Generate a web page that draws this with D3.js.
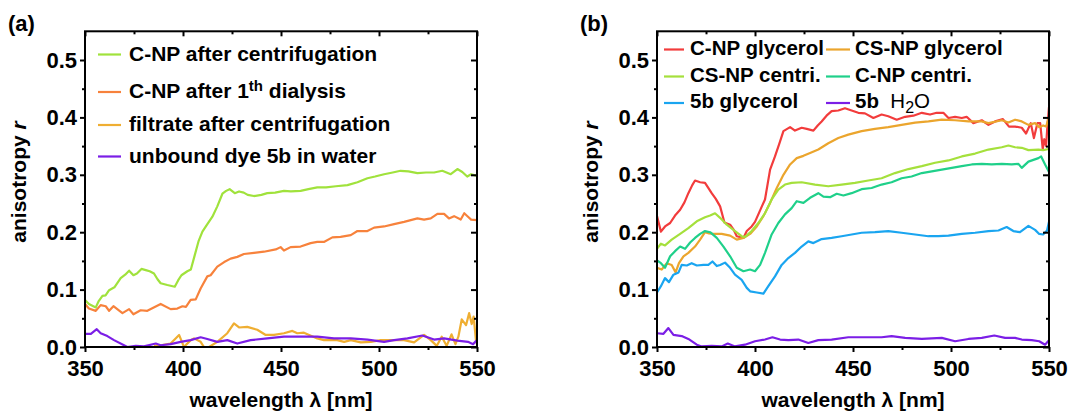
<!DOCTYPE html>
<html><head><meta charset="utf-8">
<script src="https://cdn.jsdelivr.net/npm/d3@7"></script>
<style>
body{margin:0;background:#fff}
svg{display:block}
text{font-family:"Liberation Sans",Arial,sans-serif;font-weight:bold;fill:#000;white-space:pre}
</style>
</head><body>
<svg id="c" width="1068" height="414"></svg>
<script>
// ---------- axes / ticks ----------
const xDomain = [350, 550];
const yDomain = [0, 0.55];
const xTicks = [350, 400, 450, 500, 550];
const xMinorTicks = [375, 425, 475, 525];
const yTicks = [0, 0.1, 0.2, 0.3, 0.4, 0.5];
const yMinorTicks = [0.05, 0.15, 0.25, 0.35, 0.45];
const xTitle = "wavelength λ [nm]";
const yTitle = "anisotropy ";
const yTitleItalic = "r";
const panelLabels = ["(a)", "(b)"];

// ---------- panel (a) ----------
const aLabels = ["C-NP after centrifugation", "C-NP after 1^{th} dialysis", "filtrate after centrifugation", "unbound dye 5b in water"];
const aColors = ["#a0e23c", "#f7823c", "#efae32", "#7b1ee6"];
const aCentri = [[350,0.082],[352,0.075],[355.5,0.069],[357,0.080],[358.9,0.089],[360.5,0.090],[362.3,0.099],[365,0.104],[368.2,0.120],[370.5,0.126],[372.5,0.133],[374.7,0.125],[376.5,0.128],[378.8,0.136],[381,0.134],[383,0.132],[385.2,0.128],[387,0.118],[388.6,0.111],[392,0.108],[395.8,0.105],[397.5,0.116],[399.2,0.125],[402.2,0.132],[404,0.135],[406,0.160],[408,0.185],[409.9,0.201],[412,0.212],[415,0.227],[417.5,0.245],[420.1,0.267],[422,0.272],[423.8,0.275],[426.4,0.268],[428.6,0.271],[431,0.269],[433,0.265],[436.2,0.263],[440,0.265],[443,0.268],[447,0.269],[451.5,0.272],[455,0.271],[460,0.272],[464,0.275],[468.5,0.278],[473,0.278],[478,0.280],[483.9,0.282],[489,0.287],[494.1,0.294],[498,0.297],[502.6,0.301],[507,0.304],[511,0.307],[515,0.306],[519.6,0.303],[524,0.304],[528.1,0.304],[532.3,0.307],[536.6,0.301],[540,0.310],[542.5,0.305],[545,0.297],[547,0.301],[550,0.298]];
const aDialysis = [[350,0.075],[352,0.067],[355.5,0.063],[358,0.073],[360.6,0.071],[362.3,0.063],[364.5,0.071],[369.1,0.059],[372.5,0.066],[374.7,0.057],[378.4,0.064],[381.8,0.063],[388.6,0.075],[393.7,0.066],[397.1,0.067],[399.7,0.071],[401.5,0.070],[403.9,0.082],[406.5,0.083],[409,0.102],[412.4,0.123],[414.1,0.125],[417.5,0.140],[421,0.148],[424.3,0.154],[427.7,0.157],[431.1,0.162],[436.2,0.164],[441.3,0.166],[447.3,0.170],[449.8,0.174],[451.5,0.168],[454.9,0.174],[460,0.175],[465.1,0.181],[468.5,0.183],[471.9,0.183],[476.2,0.191],[480.4,0.192],[485.6,0.195],[489,0.202],[494.1,0.202],[497.5,0.208],[502.6,0.210],[507.7,0.214],[512.8,0.218],[519.6,0.224],[523,0.222],[526.4,0.224],[529.8,0.232],[533.2,0.232],[535.7,0.224],[538.3,0.228],[541.7,0.222],[543.5,0.233],[545.4,0.227],[547,0.222],[550,0.221]];
const aFiltrate = [[385.2,0.002],[388.6,0.003],[393.7,0.006],[398,0.021],[400.5,0.000],[403.9,0.012],[405.6,0.015],[409,0.009],[410.7,0.000],[413.3,0.000],[417.5,0.009],[422.6,0.024],[426,0.041],[428.6,0.034],[432.8,0.035],[437.9,0.030],[442.2,0.021],[446.4,0.021],[451.5,0.024],[455.8,0.028],[458.3,0.024],[461.7,0.025],[468.5,0.015],[471.9,0.012],[478.7,0.012],[482.2,0.009],[485.6,0.012],[490.7,0.008],[495.8,0.009],[500.9,0.012],[506,0.012],[512.8,0.012],[517.9,0.008],[523,0.021],[526.4,0.012],[529.5,0.002],[532,0.018],[534.5,0.002],[537,0.022],[539,0.005],[540.5,0.018],[542.2,0.048],[544.4,0.038],[546,0.059],[547.3,0.040],[548.3,0.053],[549.5,0.010],[550,0.005]];
const aDye = [[350,0.023],[353,0.023],[356,0.031],[358,0.024],[361.4,0.019],[364.8,0.012],[369.9,0.003],[371.6,0.000],[375.9,0.002],[380.1,0.001],[386.1,0.006],[388.6,0.003],[393.7,0.005],[398.8,0.009],[403.9,0.012],[409,0.017],[412.4,0.014],[417.5,0.009],[422.6,0.012],[427.7,0.006],[434.5,0.012],[443,0.015],[451.5,0.018],[460,0.018],[468.5,0.018],[477,0.015],[485.6,0.015],[494.1,0.013],[502.6,0.009],[507.7,0.012],[514.5,0.015],[522.1,0.020],[528.1,0.013],[533.2,0.015],[540,0.011],[545.4,0.009],[548,0.005],[550,0.012]];

// ---------- panel (b) ----------
const bLabels = ["C-NP glycerol", "CS-NP glycerol", "CS-NP centri.", "C-NP centri.", "5b glycerol", "5b  ~{H}_{2}~{O}"];
const bColors = ["#f23c3c", "#eba52d", "#a5e03c", "#1fd08a", "#1aa5f0", "#7b1ee6"];
const bGlycerolC = [[350,0.228],[352,0.201],[354.1,0.210],[356.7,0.216],[359.2,0.229],[361.8,0.239],[364,0.252],[366,0.268],[368,0.282],[369.4,0.290],[372,0.287],[374.5,0.286],[376,0.278],[377.9,0.268],[380,0.258],[382.2,0.245],[384.4,0.217],[387.3,0.213],[389,0.205],[390.7,0.193],[394.1,0.190],[395.8,0.202],[398.3,0.210],[400,0.218],[401.7,0.231],[403.5,0.245],[405.1,0.257],[406.5,0.285],[407.7,0.309],[410.2,0.332],[412.5,0.355],[414.5,0.376],[417.9,0.383],[420.4,0.377],[423.8,0.382],[426.4,0.380],[429.8,0.377],[432,0.386],[434,0.393],[436.5,0.403],[439.1,0.411],[442.5,0.412],[445.9,0.416],[449.3,0.412],[452.7,0.408],[456.1,0.407],[460.4,0.399],[464.6,0.405],[468,0.402],[472.3,0.396],[476.6,0.401],[480.8,0.403],[485.1,0.408],[489.3,0.405],[492.7,0.408],[496.1,0.408],[498.7,0.399],[502.1,0.401],[505.5,0.399],[508,0.401],[511.4,0.390],[515.7,0.395],[519.1,0.387],[522.5,0.393],[526.5,0.397],[529.6,0.384],[532.7,0.384],[536.1,0.382],[538.3,0.372],[540.7,0.390],[542.3,0.364],[544.1,0.390],[545.5,0.390],[546.8,0.345],[547.6,0.362],[548.5,0.350],[549.3,0.390],[550,0.418]];
const bGlycerolCS = [[350,0.138],[352.4,0.135],[355,0.146],[357.5,0.143],[359.5,0.130],[361.2,0.146],[363.5,0.158],[366,0.164],[369.4,0.175],[372,0.187],[374.5,0.200],[376.5,0.198],[378.8,0.197],[383,0.197],[387.3,0.194],[390.7,0.187],[394.1,0.190],[397.5,0.197],[400.9,0.210],[404.3,0.228],[407.7,0.251],[411.1,0.277],[414.5,0.300],[417.9,0.318],[421.3,0.329],[424.7,0.333],[428.1,0.338],[432.3,0.344],[437.4,0.355],[442.5,0.364],[447.6,0.370],[454.4,0.376],[461.2,0.380],[468,0.383],[474.8,0.387],[481.7,0.391],[488.5,0.393],[495.3,0.396],[502.1,0.395],[508.9,0.393],[515.7,0.393],[519.1,0.390],[525.9,0.395],[529.3,0.391],[532.7,0.396],[536.1,0.393],[539.5,0.387],[542.9,0.390],[545,0.383],[547,0.386],[548.5,0.384],[550,0.400]];
const bCentriCS = [[350,0.171],[352,0.180],[354.1,0.177],[357.5,0.187],[361.8,0.197],[366,0.207],[370.3,0.219],[374.5,0.226],[377.1,0.229],[379.6,0.233],[382.2,0.225],[385.6,0.213],[389.8,0.202],[393.2,0.193],[394.9,0.192],[398.3,0.202],[401.7,0.216],[405.1,0.233],[408.5,0.257],[411.9,0.274],[415.3,0.283],[418.7,0.286],[423.8,0.287],[430.6,0.283],[437.4,0.280],[444.2,0.283],[451,0.286],[457.8,0.290],[464.6,0.294],[471.4,0.303],[478.3,0.310],[485.1,0.315],[491.9,0.321],[498.7,0.325],[505.5,0.332],[512.3,0.337],[519.1,0.344],[525.9,0.348],[529.3,0.351],[532.7,0.348],[536.1,0.347],[539.5,0.343],[544.6,0.344],[547,0.343],[550,0.345]];
const bCentriC = [[350,0.151],[352,0.146],[354.1,0.138],[356.7,0.158],[359.2,0.167],[361.8,0.175],[364.3,0.171],[366.9,0.182],[369.4,0.190],[372,0.197],[374.5,0.202],[377.1,0.200],[380.5,0.190],[383.9,0.175],[387.3,0.158],[390.7,0.138],[394.1,0.132],[397.5,0.135],[400,0.132],[402.6,0.143],[405.1,0.164],[408.5,0.196],[411.9,0.216],[415.3,0.231],[418.7,0.242],[421.3,0.254],[424.7,0.251],[428.1,0.260],[432.3,0.268],[434.9,0.262],[438.3,0.261],[441.7,0.267],[445.1,0.264],[449.3,0.268],[454.4,0.275],[459.5,0.277],[464.6,0.283],[469.7,0.287],[474.8,0.294],[479.9,0.297],[485.1,0.303],[490.2,0.306],[495.3,0.309],[500.4,0.312],[505.5,0.315],[510.6,0.318],[515.7,0.319],[520.8,0.318],[525.9,0.319],[531,0.318],[534.4,0.319],[536.1,0.312],[539.5,0.323],[544.6,0.329],[546,0.332],[548,0.318],[550,0.305]];
const bGlycerolDye = [[350,0.095],[352,0.106],[354.1,0.120],[356.1,0.113],[358.4,0.126],[361,0.130],[362.6,0.143],[365.2,0.142],[367.7,0.146],[370.3,0.142],[373.7,0.143],[376.2,0.143],[378.3,0.149],[380.5,0.141],[382.2,0.143],[384.7,0.147],[387.3,0.138],[389.8,0.126],[393.2,0.117],[395.8,0.103],[397.5,0.097],[400.9,0.095],[404.3,0.093],[406.8,0.106],[410.2,0.123],[413.6,0.143],[417,0.155],[420.4,0.164],[423.8,0.175],[427.2,0.184],[429.8,0.181],[434,0.188],[439.1,0.190],[444.2,0.193],[449.3,0.196],[454.4,0.199],[461.2,0.200],[468,0.202],[474.8,0.199],[481.7,0.196],[488.5,0.193],[493.6,0.193],[498.7,0.194],[505.5,0.197],[512.3,0.199],[519.1,0.202],[524.2,0.203],[528.4,0.209],[531.8,0.202],[535.2,0.200],[539.5,0.211],[542.9,0.204],[545,0.197],[547,0.196],[549,0.203],[550,0.218]];
const bWaterDye = [[350,0.024],[353.3,0.023],[355.8,0.033],[358.4,0.021],[362.6,0.019],[366,0.014],[370.3,0.004],[372.8,0.001],[377.9,0.002],[383,0.001],[386.1,0.006],[389.8,0.001],[394.9,0.004],[400,0.010],[405.1,0.013],[408.9,0.017],[412.8,0.013],[417,0.012],[422.1,0.013],[427.2,0.007],[432.3,0.012],[439.1,0.013],[447.6,0.017],[456.1,0.017],[464.6,0.017],[469.7,0.019],[476.6,0.016],[485.1,0.014],[495.3,0.016],[502.1,0.010],[508.9,0.014],[515.7,0.016],[522.1,0.020],[527.6,0.016],[532.7,0.016],[536.1,0.013],[541.2,0.012],[545,0.010],[548,0.004],[550,0.012]];

// ---------- drawing ----------
const svg = d3.select("#c");
const FONT = '"Liberation Sans", Arial, sans-serif';
const PW = 392;
const y = d3.scaleLinear().domain(yDomain).range([347, 347 - 0.55 * 574]);

function rich(textSel, str) {
  const parts = str.split(/(\^\{[^}]*\}|_\{[^}]*\}|~\{[^}]*\})/).filter(s => s.length);
  let shift = 0;
  parts.forEach(p => {
    let t, dy = 0, size = null, weight = null;
    if (p.startsWith("^{")) { t = p.slice(2, -1); dy = -7; size = 15; }
    else if (p.startsWith("_{")) { t = p.slice(2, -1); dy = 5; size = 16; weight = "normal"; }
    else if (p.startsWith("~{")) { t = p.slice(2, -1); weight = "normal"; }
    else t = p;
    const ts = textSel.append("tspan").text(t).attr("dy", dy - shift);
    shift = dy;
    if (size) ts.attr("font-size", size);
    if (weight) ts.attr("font-weight", weight);
  });
}

function styleAxis(g) {
  g.attr("font-family", FONT).attr("font-size", 22);
  g.select(".domain").remove();
  g.selectAll("line").attr("stroke", "#000").attr("stroke-width", 2);
  g.selectAll("text").attr("fill", "#000").attr("font-weight", "bold");
}

function panel(left, key, series, colors) {
  const x = d3.scaleLinear().domain(xDomain).range([left, left + PW]);
  const top = y(yDomain[1]), bot = y(0);
  svg.append("clipPath").attr("id", "clip" + key)
    .append("rect").attr("x", left).attr("y", top).attr("width", PW).attr("height", bot - top);
  const line = d3.line().x(d => x(d[0])).y(d => y(d[1]));
  const g = svg.append("g").attr("clip-path", `url(#clip${key})`);
  series.forEach((s, i) => g.append("path").attr("d", line(s))
    .attr("fill", "none").attr("stroke", colors[i]).attr("stroke-width", 2.2)
    .attr("stroke-linejoin", "round"));

  // bottom
  svg.append("g").attr("transform", `translate(0,${bot})`)
    .call(d3.axisBottom(x).tickValues(xTicks).tickSize(5).tickPadding(8).tickFormat(d3.format("d"))).call(styleAxis);
  svg.append("g").attr("transform", `translate(0,${bot})`)
    .call(d3.axisBottom(x).tickValues(xMinorTicks).tickSize(3).tickFormat("")).call(styleAxis);
  // top (inward)
  svg.append("g").attr("transform", `translate(0,${top})`)
    .call(d3.axisTop(x).tickValues(xTicks).tickSize(-5).tickFormat("")).call(styleAxis);
  svg.append("g").attr("transform", `translate(0,${top})`)
    .call(d3.axisTop(x).tickValues(xMinorTicks).tickSize(-3).tickFormat("")).call(styleAxis);
  // left
  svg.append("g").attr("transform", `translate(${left},0)`)
    .call(d3.axisLeft(y).tickValues(yTicks).tickSize(5).tickPadding(3).tickFormat(d3.format(".1f"))).call(styleAxis);
  svg.append("g").attr("transform", `translate(${left},0)`)
    .call(d3.axisLeft(y).tickValues(yMinorTicks).tickSize(3).tickFormat("")).call(styleAxis);
  // right (inward)
  svg.append("g").attr("transform", `translate(${left + PW},0)`)
    .call(d3.axisRight(y).tickValues(yTicks).tickSize(-6).tickFormat("")).call(styleAxis);
  svg.append("g").attr("transform", `translate(${left + PW},0)`)
    .call(d3.axisRight(y).tickValues(yMinorTicks).tickSize(-3).tickFormat("")).call(styleAxis);

  svg.append("rect").attr("x", left).attr("y", top).attr("width", PW).attr("height", bot - top)
    .attr("fill", "none").attr("stroke", "#000").attr("stroke-width", 2);

  // titles
  svg.append("text").attr("x", left + PW / 2).attr("y", 407).attr("text-anchor", "middle")
    .attr("font-size", 21).text(xTitle);
  const yt = svg.append("text").attr("transform", `translate(${left - 59},182) rotate(-90)`)
    .attr("text-anchor", "middle").attr("font-size", 21);
  yt.append("tspan").text(yTitle);
  yt.append("tspan").text(yTitleItalic).attr("font-style", "italic");
  return x;
}

// panel (a)
panel(85, "a", [aCentri, aDialysis, aFiltrate, aDye], aColors);
svg.append("text").attr("x", 8).attr("y", 31).attr("font-size", 22).text(panelLabels[0]);
const aRows = [60.5, 98, 131, 162.5];
aLabels.forEach((lab, i) => {
  svg.append("line").attr("x1", 98).attr("x2", 121).attr("y1", aRows[i] - 6).attr("y2", aRows[i] - 6)
    .attr("stroke", aColors[i]).attr("stroke-width", 2.2);
  rich(svg.append("text").attr("x", 129).attr("y", aRows[i]).attr("font-size", 21), lab);
});

// panel (b)
panel(657, "b", [bGlycerolC, bGlycerolCS, bCentriCS, bCentriC, bGlycerolDye, bWaterDye], bColors);
svg.append("text").attr("x", 580).attr("y", 31).attr("font-size", 22).text(panelLabels[1]);
const bRows = [54.5, 81.5, 108];
const bCols = [[664, 684, 690], [826, 850, 855]];
bLabels.forEach((lab, i) => {
  const r = Math.floor(i / 2), c = i % 2;
  svg.append("line").attr("x1", bCols[c][0]).attr("x2", bCols[c][1])
    .attr("y1", bRows[r] - 5).attr("y2", bRows[r] - 5).attr("stroke", bColors[i]).attr("stroke-width", 2.2);
  rich(svg.append("text").attr("x", bCols[c][2]).attr("y", bRows[r]).attr("font-size", 20.5), lab);
});
</script>
</body></html>
